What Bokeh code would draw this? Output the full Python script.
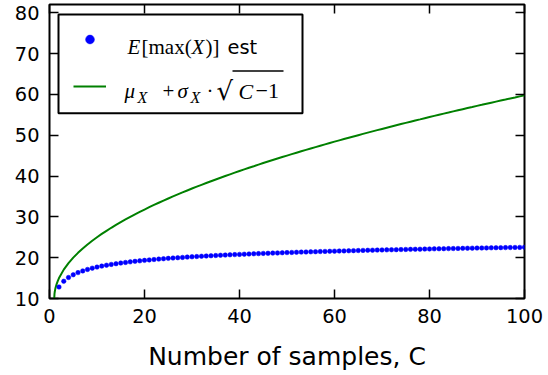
from bokeh.plotting import figure
from bokeh.models import (Range1d, Label, BoxAnnotation, Legend, LegendItem,
                          FixedTicker, LinearAxis, ColumnDataSource,
                          CustomLabelingPolicy)
from bokeh.embed import file_html
from bokeh.resources import INLINE

# ---- data ----
samples_C = list(range(2, 101))
emax_est = [
    12.82, 14.23, 15.15, 15.82, 16.34, 16.76, 17.12, 17.43, 17.69,
    17.93, 18.15, 18.34, 18.52, 18.68, 18.83, 18.97, 19.10, 19.22, 19.34,
    19.45, 19.55, 19.65, 19.74, 19.83, 19.91, 19.99, 20.06, 20.14, 20.21,
    20.28, 20.35, 20.41, 20.47, 20.53, 20.59, 20.64, 20.70, 20.75, 20.80,
    20.85, 20.90, 20.95, 20.99, 21.04, 21.08, 21.12, 21.16, 21.21, 21.25,
    21.28, 21.32, 21.36, 21.39, 21.43, 21.46, 21.50, 21.53, 21.56, 21.60,
    21.63, 21.66, 21.69, 21.72, 21.75, 21.78, 21.81, 21.83, 21.86, 21.89,
    21.91, 21.94, 21.96, 21.99, 22.01, 22.04, 22.06, 22.08, 22.11, 22.13,
    22.16, 22.18, 22.20, 22.22, 22.24, 22.26, 22.28, 22.31, 22.33, 22.35,
    22.37, 22.39, 22.41, 22.43, 22.45, 22.46, 22.48, 22.50, 22.52, 22.54,
]
curve_C = [1, 1.05, 1.1, 1.2, 1.3, 1.5, 1.75] + list(range(2, 101))
curve_val = [
    10.00, 11.12, 11.58, 12.24, 12.74, 13.54, 14.33,
    15.00, 17.07, 18.66, 20.00, 21.18, 22.25, 23.23, 24.14, 25.00,
    25.81, 26.58, 27.32, 28.03, 28.71, 29.36, 30.00, 30.62, 31.21, 31.79,
    32.36, 32.91, 33.45, 33.98, 34.49, 35.00, 35.50, 35.98, 36.46, 36.93,
    37.39, 37.84, 38.28, 38.72, 39.15, 39.58, 40.00, 40.41, 40.82, 41.22,
    41.62, 42.02, 42.40, 42.79, 43.17, 43.54, 43.91, 44.28, 44.64, 45.00,
    45.36, 45.71, 46.06, 46.40, 46.74, 47.08, 47.42, 47.75, 48.08, 48.41,
    48.73, 49.05, 49.37, 49.69, 50.00, 50.31, 50.62, 50.93, 51.23, 51.53,
    51.83, 52.13, 52.43, 52.72, 53.01, 53.30, 53.59, 53.87, 54.16, 54.44,
    54.72, 55.00, 55.28, 55.55, 55.83, 56.10, 56.37, 56.64, 56.90, 57.17,
    57.43, 57.70, 57.96, 58.22, 58.48, 58.73, 58.99, 59.24, 59.50, 59.75,
]
x_ticks = [0, 20, 40, 60, 80, 100]
y_ticks = [10, 20, 30, 40, 50, 60, 70, 80]

# ---- layout (pixel geometry of the reference) ----
FL, FR, FT, FB = 49, 524, 3, 298
XMIN, XMAX, YMIN, YMAX = 0, 100, 10, 82

def dx(px):
    return XMIN + (px - FL) * (XMAX - XMIN) / (FR - FL)

def dy(py):
    return YMIN + (FB - py) * (YMAX - YMIN) / (FB - FT)

p = figure(width=548, height=375, output_backend="svg", toolbar_location=None,
           x_range=Range1d(XMIN, XMAX), y_range=Range1d(YMIN, YMAX),
           min_border_left=FL, min_border_right=548 - FR,
           min_border_top=FT, min_border_bottom=375 - FB)
p.background_fill_color = "white"
p.border_fill_color = "white"
p.grid.visible = False
p.outline_line_color = "black"
p.outline_line_width = 2

TICK_FONT = "19.4px"

def style_axis(ax, show_labels):
    ax.axis_line_color = None
    ax.major_tick_in = 9
    ax.major_tick_out = 0
    ax.minor_tick_in = 0
    ax.minor_tick_out = 0
    ax.major_tick_line_color = "black"
    ax.major_tick_line_width = 1.5
    ax.major_label_text_font = "DejaVu Sans"
    ax.major_label_text_color = "black"
    if show_labels:
        ax.major_label_text_font_size = TICK_FONT
        ax.major_label_standoff = 10
    else:
        ax.major_label_text_font_size = "1px"
        ax.major_label_standoff = 0
        ax.major_label_policy = CustomLabelingPolicy(code="return new Set()")

p.xaxis.ticker = FixedTicker(ticks=x_ticks)
p.yaxis.ticker = FixedTicker(ticks=y_ticks)
style_axis(p.xaxis[0], True)
style_axis(p.yaxis[0], True)

p.xaxis.axis_label = "Number of samples, C"
p.xaxis.axis_label_text_font = "DejaVu Sans"
p.xaxis.axis_label_text_font_size = "25px"
p.xaxis.axis_label_text_font_style = "normal"
p.xaxis.axis_label_text_color = "black"
p.xaxis.axis_label_standoff = 16

top_ax = LinearAxis(ticker=FixedTicker(ticks=x_ticks))
right_ax = LinearAxis(ticker=FixedTicker(ticks=y_ticks))
style_axis(top_ax, False)
style_axis(right_ax, False)
p.add_layout(top_ax, "above")
p.add_layout(right_ax, "right")

src_pts = ColumnDataSource(dict(x=samples_C, y=emax_est))
src_curve = ColumnDataSource(dict(x=curve_C, y=curve_val))

r_line = p.line("x", "y", source=src_curve, line_color="#008000", line_width=2)
r_dots = p.scatter("x", "y", source=src_pts, size=4.5, marker="circle",
                   fill_color="#0000ff", line_color="#0000ff", line_width=0.5)

# legend frame
p.add_layout(BoxAnnotation(left=dx(58), right=dx(302), top=dy(13), bottom=dy(112),
                           fill_color="white", fill_alpha=1.0,
                           line_color="black", line_width=2, line_alpha=1.0))

# legend samples (transparent legend box, glyph samples only)
legend = Legend(items=[LegendItem(label=" ", renderers=[r_dots]),
                       LegendItem(label=" ", renderers=[r_line])],
                location="top_left", margin=10, padding=14, spacing=25,
                glyph_width=33, glyph_height=22, label_height=22,
                label_width=0, label_standoff=0,
                border_line_alpha=0.0, background_fill_alpha=0.0,
                label_text_font_size="12px")
p.add_layout(legend)

SERIF = "Liberation Serif"

def put(txt, px, py, size, font=SERIF, style="normal"):
    p.add_layout(Label(x=dx(px), y=dy(py), text=txt, text_font=font,
                       text_font_size=size, text_font_style=style,
                       text_color="black", text_align="left",
                       text_baseline="alphabetic", level="overlay"))

# legend row 1: E[max(X)] est
put("E", 127, 46, "21px", style="italic")
put("[max(", 141, 46, "21px")
put("X", 191, 46, "21px", style="italic")
put(")]", 205, 46, "21px")
put("est", 227, 46, "19.4px", font="DejaVu Sans")

# legend row 2: mu_X + sigma_X . sqrt(C-1)
put("\u03bc", 124, 90, "21px", style="italic")
put("X", 137, 96, "16px", style="italic")
put("+", 162, 90, "21px")
put("\u03c3", 177, 90, "21px", style="italic")
put("X", 190, 96, "16px", style="italic")
put("\u00b7", 206, 90, "21px")
put("\u221a", 216, 90, "26px", font="DejaVu Serif")
put("C", 238, 90, "22px", style="italic")
put("\u22121", 255, 90, "22px")
p.add_layout(BoxAnnotation(left=dx(232), right=dx(283), top=dy(69), bottom=dy(70.5),
                           fill_color="black", fill_alpha=1.0, line_alpha=0,
                           level="overlay"))

open("out.html", "w").write(file_html(p, INLINE))
